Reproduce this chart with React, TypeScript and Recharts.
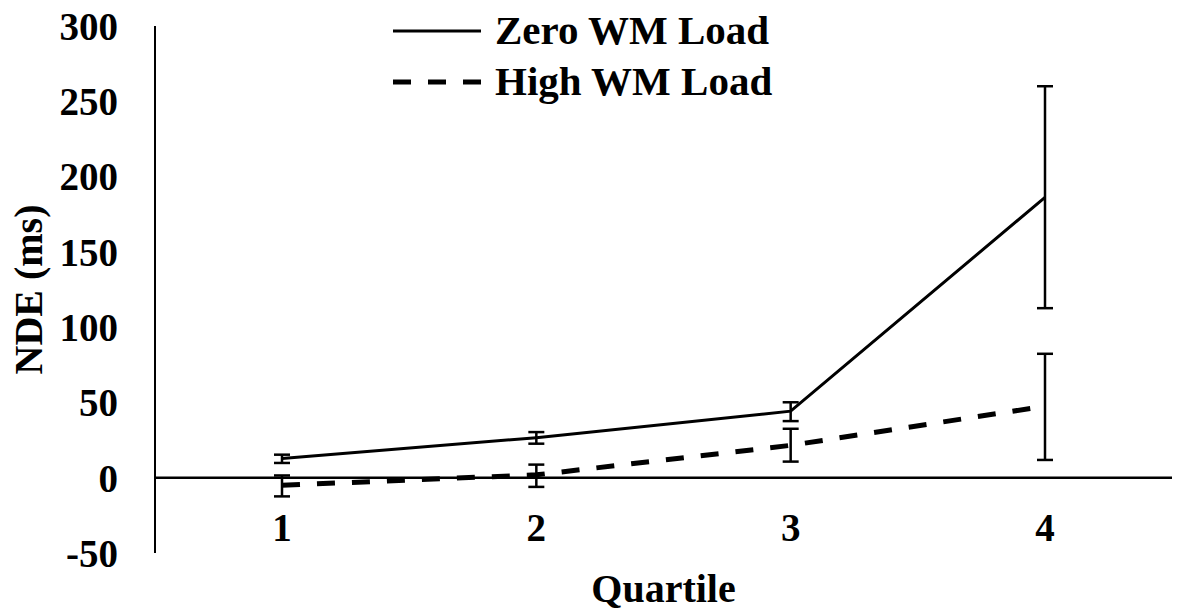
import React from "react";
import {
  LineChart,
  Line,
  XAxis,
  YAxis,
  ErrorBar,
  ReferenceLine,
  Legend,
  Label,
} from "recharts";

const quartiles = ["1", "2", "3", "4"];

const zeroMean = [12.7, 26.6, 44.2, 186.2];
const zeroLow = [9.8, 22.6, 37.6, 112.6];
const zeroHigh = [15.3, 30.3, 50.1, 260.0];

const highMean = [-5.0, 1.9, 21.5, 47.5];
const highLow = [-12.4, -6.1, 10.7, 11.8];
const highHigh = [1.5, 8.7, 32.5, 82.3];

const yTicks = [-50, 0, 50, 100, 150, 200, 250, 300];

const FONT = '"Liberation Serif", "Times New Roman", serif';

const data = quartiles.map((q, i) => ({
  q,
  zero: zeroMean[i],
  zeroErr: [zeroMean[i] - zeroLow[i], zeroHigh[i] - zeroMean[i]],
  high: highMean[i],
  highErr: [highMean[i] - highLow[i], highHigh[i] - highMean[i]],
}));

const series = [
  { key: "zero", err: "zeroErr", name: "Zero WM Load", width: 3, dash: undefined },
  { key: "high", err: "highErr", name: "High WM Load", width: 5, dash: "18 17" },
];

const LegendContent = () => (
  <div style={{ fontFamily: FONT, fontWeight: "bold", fontSize: 41, color: "#000" }}>
    {series.map((s) => (
      <div key={s.key} style={{ display: "flex", alignItems: "center", height: 51 }}>
        <svg width={102} height={12} style={{ display: "block" }}>
          <line
            x1={0}
            x2={88}
            y1={6}
            y2={6}
            stroke="#000"
            strokeWidth={s.width}
            strokeDasharray={s.dash}
          />
        </svg>
        <span style={{ lineHeight: 1 }}>{s.name}</span>
      </div>
    ))}
  </div>
);

const XTick = ({ x, y, payload }: any) => (
  <text
    x={x}
    y={y - 26}
    textAnchor="middle"
    dominantBaseline="central"
    fontFamily={FONT}
    fontWeight="bold"
    fontSize={39}
    fill="#000"
  >
    {payload.value}
  </text>
);

export default function App() {
  return (
    <div style={{ position: "absolute", left: 0, top: 0, background: "#fff" }}>
      <LineChart
        width={1181}
        height={614}
        data={data}
        margin={{ top: 26, right: 9, left: 0, bottom: 0 }}
      >
        <XAxis
          dataKey="q"
          padding={{ left: 127, right: 127 }}
          axisLine={false}
          tickLine={false}
          tickSize={0}
          tickMargin={0}
          height={61}
          tick={<XTick />}
        >
          <Label
            content={({ viewBox }: any) => (
              <text
                x={viewBox.x + viewBox.width / 2}
                y={viewBox.y + 35}
                textAnchor="middle"
                dominantBaseline="central"
                fontFamily={FONT}
                fontWeight="bold"
                fontSize={40}
                fill="#000"
              >
                Quartile
              </text>
            )}
          />
        </XAxis>
        <YAxis
          domain={[-50, 300]}
          ticks={yTicks}
          interval={0}
          width={155}
          axisLine={{ stroke: "#000", strokeWidth: 2 }}
          tickLine={false}
          tickSize={0}
          tickMargin={37}
          tick={{ fontFamily: FONT, fontWeight: "bold", fontSize: 39, fill: "#000" }}
        >
          <Label
            content={({ viewBox }: any) => (
              <text
                x={28}
                y={viewBox.y + viewBox.height / 2}
                textAnchor="middle"
                dominantBaseline="central"
                transform={`rotate(-90, 28, ${viewBox.y + viewBox.height / 2})`}
                fontFamily={FONT}
                fontWeight="bold"
                fontSize={40}
                fill="#000"
              >
                NDE (ms)
              </text>
            )}
          />
        </YAxis>
        <ReferenceLine y={0} stroke="#000" strokeWidth={2.5} ifOverflow="extendDomain" />
        <Legend
          layout="vertical"
          align="center"
          verticalAlign="middle"
          wrapperStyle={{ left: 393, top: 5, width: "auto" }}
          content={<LegendContent />}
        />
        {series.map((s) => (
          <Line
            key={s.key}
            dataKey={s.key}
            name={s.name}
            type="linear"
            stroke="#000"
            strokeWidth={s.width}
            strokeDasharray={s.dash}
            dot={false}
            activeDot={false}
            isAnimationActive={false}
          >
            <ErrorBar
              dataKey={s.err}
              direction="y"
              width={8}
              stroke="#000"
              strokeWidth={2.5}
              isAnimationActive={false}
            />
          </Line>
        ))}
      </LineChart>
    </div>
  );
}
